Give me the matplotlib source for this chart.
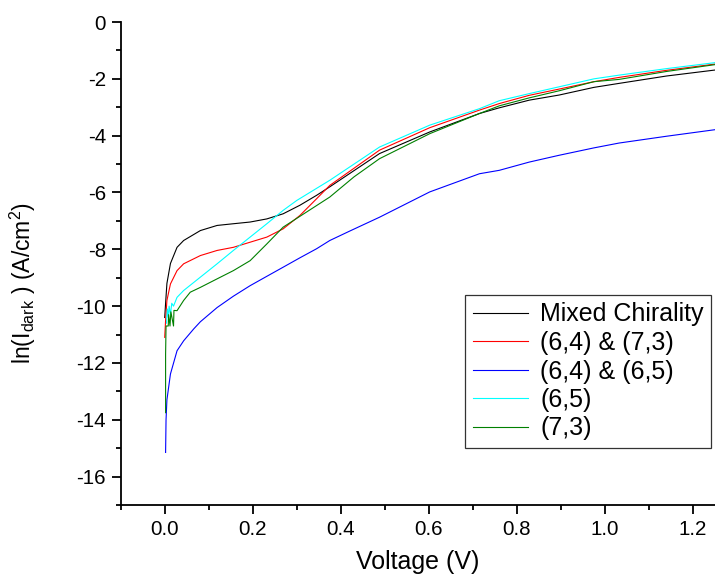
import matplotlib
matplotlib.use("Agg")
import matplotlib.pyplot as plt
from matplotlib.ticker import MultipleLocator

plt.rcParams['font.family'] = ['Liberation Sans', 'DejaVu Sans']
plt.rcParams['mathtext.fontset'] = 'custom'
plt.rcParams['mathtext.rm'] = 'Liberation Sans'
plt.rcParams['mathtext.it'] = 'Liberation Sans'

# dark current curves (voltage in V, ln(I) in A/cm^2)
v_mixed = [0.0, 0.002, 0.005, 0.013, 0.028, 0.043, 0.081, 0.119, 0.156, 0.194,
           0.232, 0.269, 0.307, 0.345, 0.375, 0.488, 0.602, 0.715, 0.76, 0.828,
           0.896, 0.975, 1.032, 1.14, 1.25]
y_mixed = [-10.4, -9.9, -9.2, -8.5, -7.93, -7.69, -7.34, -7.16, -7.10, -7.04,
           -6.93, -6.75, -6.45, -6.1, -5.8, -4.63, -3.87, -3.22, -3.02, -2.75,
           -2.57, -2.30, -2.16, -1.90, -1.69]

v_6473 = [0.0, 0.002, 0.005, 0.013, 0.028, 0.043, 0.081, 0.119, 0.156, 0.194,
          0.232, 0.269, 0.307, 0.345, 0.375, 0.488, 0.602, 0.715, 0.76, 0.828,
          0.896, 0.975, 1.032, 1.14, 1.25]
y_6473 = [-11.1, -10.5, -9.8, -9.22, -8.75, -8.51, -8.22, -8.04, -7.93, -7.75,
          -7.57, -7.28, -6.81, -6.22, -5.75, -4.51, -3.72, -3.10, -2.87, -2.58,
          -2.36, -2.10, -1.95, -1.70, -1.48]

v_6465 = [0.002, 0.003, 0.005, 0.013, 0.028, 0.043, 0.066, 0.081, 0.119, 0.156,
          0.194, 0.232, 0.269, 0.307, 0.345, 0.375, 0.42, 0.488, 0.602, 0.715,
          0.76, 0.828, 0.896, 0.975, 1.032, 1.14, 1.25]
y_6465 = [-15.15, -14.0, -13.3, -12.39, -11.57, -11.22, -10.8, -10.55, -10.05, -9.65,
          -9.28, -8.95, -8.63, -8.30, -7.98, -7.69, -7.36, -6.87, -5.98, -5.34,
          -5.22, -4.93, -4.69, -4.43, -4.26, -4.02, -3.79]

v_65 = [0.004, 0.006, 0.008, 0.01, 0.013, 0.016, 0.02, 0.028, 0.043, 0.081,
        0.119, 0.156, 0.194, 0.232, 0.269, 0.30, 0.375, 0.488, 0.602, 0.715,
        0.76, 0.828, 0.896, 0.975, 1.032, 1.14, 1.25]
y_65 = [-10.6, -10.1, -10.4, -10.0, -10.3, -9.9, -10.0, -9.69, -9.45, -8.98,
        -8.51, -8.04, -7.57, -7.10, -6.63, -6.28, -5.57, -4.40, -3.63, -3.05,
        -2.77, -2.52, -2.28, -2.00, -1.87, -1.64, -1.43]

v_73 = [0.002, 0.002, 0.003, 0.008, 0.009, 0.012, 0.014, 0.02, 0.021, 0.028,
        0.043, 0.058, 0.081, 0.119, 0.156, 0.194, 0.232, 0.269, 0.307, 0.345,
        0.375, 0.43, 0.488, 0.602, 0.715, 0.76, 0.828, 0.896, 0.975, 1.032,
        1.14, 1.25]
y_73 = [-13.75, -11.7, -10.7, -10.7, -10.3, -10.7, -10.2, -10.7, -10.15, -10.16,
        -9.8, -9.51, -9.34, -9.04, -8.75, -8.40, -7.81, -7.22, -6.84, -6.46,
        -6.16, -5.45, -4.81, -3.93, -3.22, -2.95, -2.67, -2.42, -2.10, -2.02,
        -1.74, -1.50]

series = [
    ("Mixed Chirality", v_mixed, y_mixed, "black"),
    ("(6,4) & (7,3)", v_6473, y_6473, "#ff0000"),
    ("(6,4) & (6,5)", v_6465, y_6465, "#0000ff"),
    ("(6,5)", v_65, y_65, "#00ffff"),
    ("(7,3)", v_73, y_73, "#008000"),
]

fig = plt.figure(figsize=(7.15, 5.81), dpi=100)
ax = fig.add_axes([0.1688, 0.1308, 0.8312, 0.8313])

for name, v, y, c in series:
    ax.plot(v, y, color=c, lw=0.8, label=name)

ax.set_xlim(-0.1, 1.25)
ax.set_ylim(-17, 0)
ax.xaxis.set_major_locator(MultipleLocator(0.2))
ax.xaxis.set_minor_locator(MultipleLocator(0.1))
ax.yaxis.set_major_locator(MultipleLocator(2))
ax.yaxis.set_minor_locator(MultipleLocator(1))
ax.xaxis.set_major_formatter(plt.FuncFormatter(lambda x, p: f"{x:.1f}"))
ax.yaxis.set_major_formatter(plt.FuncFormatter(lambda y, p: f"{round(y):d}"))

for s in ["top", "right"]:
    ax.spines[s].set_visible(False)
for s in ["left", "bottom"]:
    ax.spines[s].set_linewidth(1.3)

ax.tick_params(which="major", direction="out", length=6.5, width=1.3,
               labelsize=14.8, pad=4)
ax.tick_params(which="minor", direction="out", length=3.5, width=1.3)

ax.set_xlabel("Voltage (V)", fontsize=18, labelpad=8)
ax.set_ylabel(r"ln(I$_{\mathrm{dark}}$ ) (A/cm$^2$)", fontsize=16.5)
ax.yaxis.set_label_coords(-0.139, 0.46)

leg = ax.legend(loc="upper left", bbox_to_anchor=(465 / 715, 1 - 295 / 581),
                bbox_transform=fig.transFigure, fontsize=18, frameon=True,
                fancybox=False, edgecolor="black", handlelength=2.2,
                handletextpad=0.5, labelspacing=0.18, borderpad=0.3,
                borderaxespad=0)
leg.get_frame().set_linewidth(0.9)

fig.savefig("out.png", dpi=100)
